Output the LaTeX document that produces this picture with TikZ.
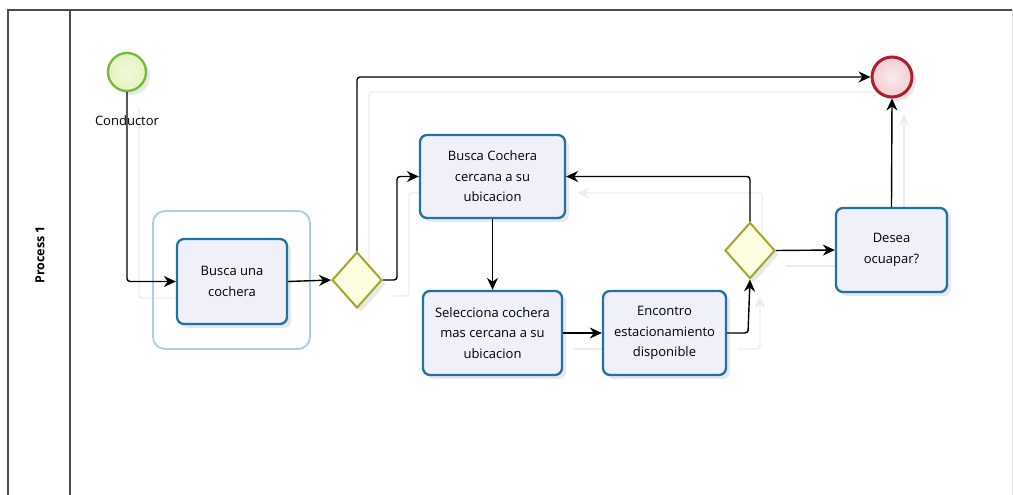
\documentclass[tikz,border=0pt]{standalone}
\usepackage{fontspec}
\setmainfont{Open Sans}
\usetikzlibrary{arrows.meta,shapes.geometric,shadows}
\definecolor{taskline}{HTML}{1F72A3}
\definecolor{taskfill}{HTML}{EFF0FA}
\definecolor{groupline}{HTML}{A8CFE2}
\definecolor{gateline}{HTML}{A7A52C}
\definecolor{gatefill}{HTML}{FDFDE2}
\definecolor{startline}{HTML}{6DBE3C}
\definecolor{startfill}{HTML}{E8F2C0}
\definecolor{endline}{HTML}{B01E2C}
\definecolor{endfill}{HTML}{F3CDD2}
\definecolor{ghost}{HTML}{EDEDED}
\tikzset{
  softshadow/.style={drop shadow={shadow xshift=4pt,shadow yshift=-4pt,opacity=0.15,fill=black!60}},
  task/.style={draw=taskline,line width=2.3pt,fill=taskfill,rounded corners=7pt,
    minimum width=#1,align=center,font=\fontsize{13}{20.5}\selectfont,
    inner sep=0pt,softshadow},
  gate/.style={diamond,draw=gateline,line width=2pt,fill=gatefill,
    minimum width=50pt,minimum height=56pt,inner sep=0pt,softshadow},
  flow/.style={draw=black,line width=1.4pt,rounded corners=3pt,-{Stealth[length=12pt,width=11pt]}},
  ghostflow/.style={draw=ghost,line width=1.4pt,rounded corners=3pt,-{Stealth[length=12pt,width=11pt]}},
}
\begin{document}
\begin{tikzpicture}[x=1pt,y=-1pt]
\useasboundingbox (0,0) rectangle (1013,495);
% pool and lane
\draw[black!70,line width=1.3pt] (8,495) -- (8,10) -- (1012,10);
\draw[black!12,line width=1pt] (1012,10) -- (1012,495);
\draw[black!70,line width=1.3pt] (70,10) -- (70,495);
\node[rotate=90,font=\bfseries\fontsize{12.5}{14}\selectfont] (lane) at (40,255) {Process 1};

% faint offset copies of the sequence flows
\begin{scope}[shift={(12,16)}]
  \draw[ghostflow] (127,92) |- (176,282);
  \draw[ghostflow] (357,252) |- (872,76);
  \draw[ghostflow] (381,280) -- (397,280) |- (420,177);
  \draw[ghostflow] (750,223) |- (565,177);
  \draw[ghostflow] (726,333) -- (748,333) -- (748,280);
  \draw[ghostflow] (774,250) -- (836,250);
  \draw[ghostflow] (562,333) -- (603,333);
  \draw[ghostflow] (892,208) -- (892,98);
\end{scope}

% group
\draw[groupline,line width=1.8pt,rounded corners=12pt] (153,211) rectangle (310,349);

% events
\node[circle,draw=startline,line width=2.3pt,inner color=white!40!startfill,outer color=startfill,
  minimum size=38pt,inner sep=0pt,softshadow] (start) at (127,72) {};
\node[font=\fontsize{13}{15}\selectfont] (lbl) at (127,121) {Conductor};
\node[circle,draw=endline,line width=3pt,inner color=white!60!endfill,outer color=endfill,
  minimum size=40pt,inner sep=0pt,softshadow] (end) at (892,77) {};

% tasks
\node[task=110pt,minimum height=85pt] (t1) at (232,281.5) {Busca una\\cochera};
\node[task=145pt,minimum height=83pt] (t2) at (492.5,176.5) {Busca Cochera\\cercana a su\\ubicacion};
\node[task=139pt,minimum height=84pt] (t3) at (492.5,333) {Selecciona cochera\\mas cercana a su\\ubicacion};
\node[task=123pt,minimum height=84pt] (t4) at (664.5,333) {Encontro\\estacionamiento\\disponible};
\node[task=111pt,minimum height=84pt] (t5) at (891.5,250) {Desea\\ocuapar?};

% gateways
\node[gate] (g1) at (357,280) {};
\node[gate] (g2) at (750,250.5) {};

% sequence flows
\draw[flow] (start.south) |- (t1.west);
\draw[flow] (t1.east) -- (g1.west);
\draw[flow] (g1.north) |- (end.west);
\draw[flow] (g1.east) -- (397,280) |- (t2.west);
\draw[flow] (t2.south) -- (t3.north);
\draw[flow] (t3.east) -- (t4.west);
\draw[flow] (t4.east) -- (748,333) -- (g2.south);
\draw[flow] (g2.north) |- (t2.east);
\draw[flow] (g2.east) -- (t5.west);
\draw[flow] (t5.north) -- (end.south);
\end{tikzpicture}
\end{document}
